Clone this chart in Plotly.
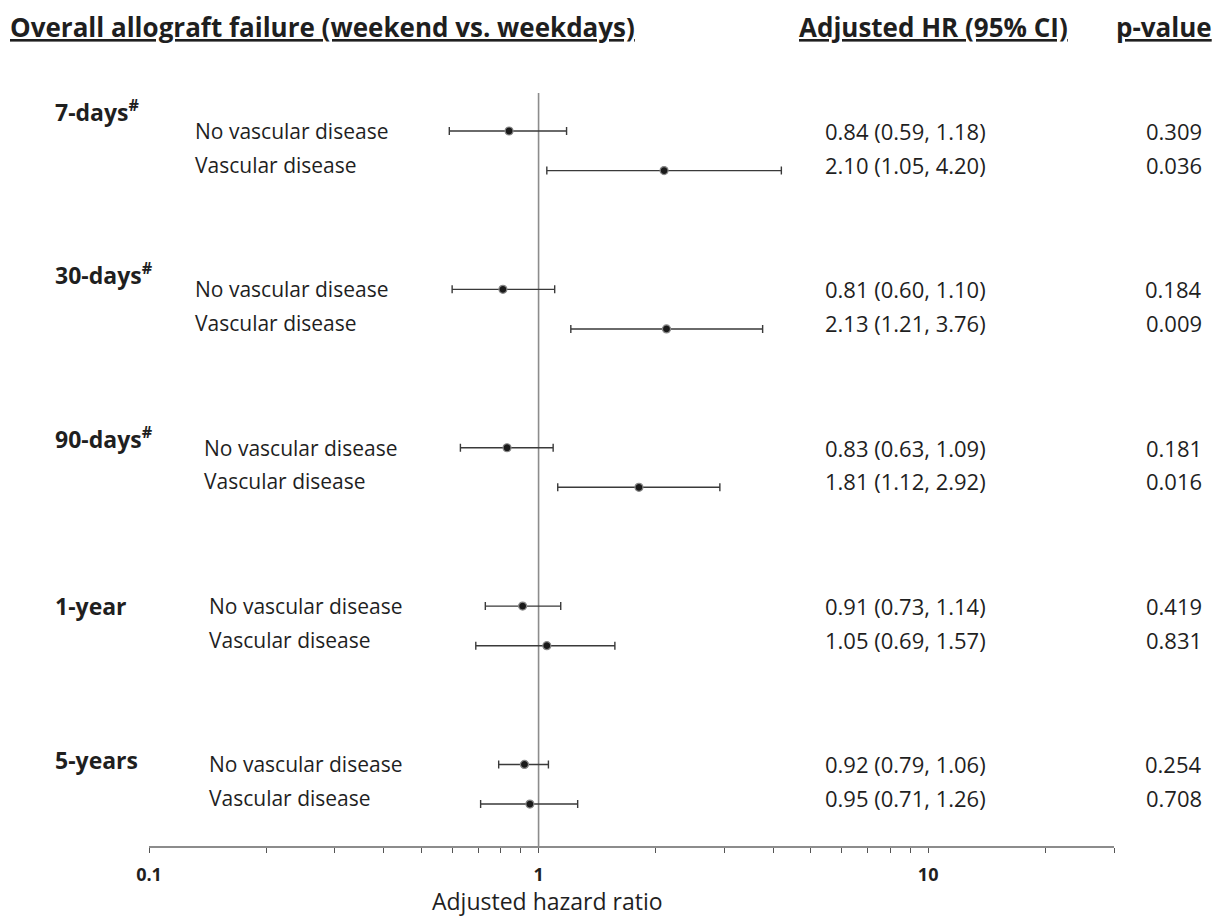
import math
import plotly.graph_objects as go

# ---------------- data ----------------
groups = ["7-days<sup>#</sup>", "30-days<sup>#</sup>", "90-days<sup>#</sup>", "1-year", "5-years"]
subgroups = ["No vascular disease", "Vascular disease"]
hr = [0.84, 2.10, 0.81, 2.13, 0.83, 1.81, 0.91, 1.05, 0.92, 0.95]
ci_lo = [0.59, 1.05, 0.60, 1.21, 0.63, 1.12, 0.73, 0.69, 0.79, 0.71]
ci_hi = [1.18, 4.20, 1.10, 3.76, 1.09, 2.92, 1.14, 1.57, 1.06, 1.26]
pvals = ["0.309", "0.036", "0.184", "0.009", "0.181", "0.016", "0.419", "0.831", "0.254", "0.708"]
major_ticks = [0.1, 1, 10]
all_ticks = [0.1, 0.2, 0.3, 0.4, 0.5, 0.6, 0.7, 0.8, 0.9,
             1, 2, 3, 4, 5, 6, 7, 8, 9, 10, 20, 30]
major_labels = ["0.1", "1", "10"]

# ---------------- layout helpers ----------------
PAGE_OFF = 8            # default body margin of the html page
W, H = 1224 - PAGE_OFF, 919 - PAGE_OFF
L, R_PX, T, B_PX = 149, 1114, 93, 846   # plot area in screenshot pixels
FONT = "Open Sans"
TXT = "#1f1f1f"

def px_x(px):
    return (px - L) / (R_PX - L)

def px_y(py):
    return (B_PX - py) / (B_PX - T)

# row positions (in row units): group g -> rows 4g, 4g+1
row_pos = []
for g in range(len(groups)):
    row_pos += [4 * g, 4 * g + 1]

fig = go.Figure()

# reference line at HR = 1
fig.add_trace(go.Scatter(
    x=[1, 1], y=[-0.96, 18.06], mode="lines",
    line=dict(color="#8c8c8c", width=1.6), hoverinfo="skip", showlegend=False))

# point estimates with CIs
fig.add_trace(go.Scatter(
    x=hr, y=row_pos, mode="markers",
    marker=dict(size=8, color="#1a1a1a", line=dict(color="#8a8a8a", width=1.2)),
    error_x=dict(type="data", symmetric=False,
                 array=[h - m for h, m in zip(ci_hi, hr)],
                 arrayminus=[m - l for m, l in zip(hr, ci_lo)],
                 color="#3a3a3a", thickness=1.4, width=4),
    showlegend=False))

ann = []
HEAD_SIZE = 26
ann.append(dict(x=px_x(8), y=px_y(27), xref="paper", yref="paper", xanchor="left", yanchor="middle",
                text="<b><u>Overall allograft failure (weekend vs. weekdays)</u></b>", showarrow=False,
                font=dict(family=FONT, size=HEAD_SIZE, color=TXT)))
ann.append(dict(x=px_x(797), y=px_y(27), xref="paper", yref="paper", xanchor="left", yanchor="middle",
                text="<b><u>Adjusted HR (95% CI)</u></b>", showarrow=False,
                font=dict(family=FONT, size=HEAD_SIZE, color=TXT)))
ann.append(dict(x=px_x(1214), y=px_y(27), xref="paper", yref="paper", xanchor="right", yanchor="middle",
                text="<b><u>p-value</u></b>", showarrow=False,
                font=dict(family=FONT, size=HEAD_SIZE, color=TXT)))

group_offsets = [-0.5, -0.4, -0.25, 0.0, -0.1]
label_x = [193, 193, 202, 207, 207]
for g, name in enumerate(groups):
    ann.append(dict(x=px_x(53), y=row_pos[2 * g] + group_offsets[g], xref="paper", yref="y",
                    xanchor="left", yanchor="middle", text="<b>" + name + "</b>", showarrow=False,
                    font=dict(family=FONT, size=23, color=TXT)))
    for s in range(2):
        i = 2 * g + s
        yy = row_pos[i] - (0.15 if s == 1 else 0.0)
        ann.append(dict(x=px_x(label_x[g]), y=yy, xref="paper", yref="y", xanchor="left",
                        yanchor="middle", text=subgroups[s], showarrow=False,
                        font=dict(family=FONT, size=21, color=TXT)))
        ann.append(dict(x=px_x(823), y=yy, xref="paper", yref="y", xanchor="left", yanchor="middle",
                        text=f"{hr[i]:.2f} ({ci_lo[i]:.2f}, {ci_hi[i]:.2f})", showarrow=False,
                        font=dict(family=FONT, size=22, color=TXT)))
        ann.append(dict(x=px_x(1204), y=yy, xref="paper", yref="y", xanchor="right", yanchor="middle",
                        text=pvals[i], showarrow=False,
                        font=dict(family=FONT, size=22, color=TXT)))

# axis title
ann.append(dict(x=px_x(547), y=px_y(901), xref="paper", yref="paper", xanchor="center", yanchor="middle",
                text="Adjusted hazard ratio", showarrow=False,
                font=dict(family=FONT, size=23, color=TXT)))

ticktext = [("<b>" + major_labels[major_ticks.index(t)] + "</b>") if t in major_ticks else "" for t in all_ticks]

fig.update_layout(
    width=W, height=H,
    margin=dict(l=L - PAGE_OFF, r=1224 - R_PX, t=T - PAGE_OFF, b=919 - B_PX, pad=0),
    paper_bgcolor="white", plot_bgcolor="white",
    annotations=ann,
    xaxis=dict(type="log", range=[-1, math.log10(30)], showgrid=False, zeroline=False,
               showline=True, linecolor="#8c8c8c", linewidth=1.6,
               ticks="outside", ticklen=5, tickwidth=1.3, tickcolor="#555",
               tickvals=all_ticks, ticktext=ticktext, ticklabelstandoff=7,
               tickfont=dict(family=FONT, size=18, color=TXT)),
    yaxis=dict(range=[18.06, -0.96], visible=False, showgrid=False, zeroline=False),
)

fig.write_html("out.html")
